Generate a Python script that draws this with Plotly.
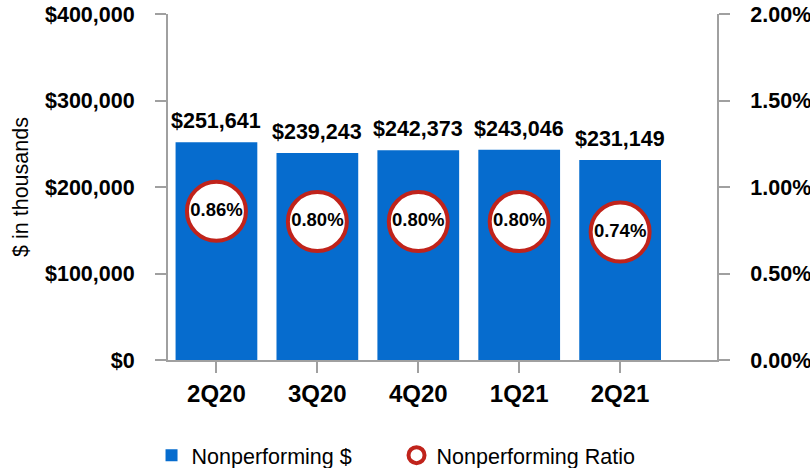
import plotly.graph_objects as go

quarters = ["2Q20", "3Q20", "4Q20", "1Q21", "2Q21"]
nonperforming = [251641, 239243, 242373, 243046, 231149]
ratio = [0.86, 0.80, 0.80, 0.80, 0.74]

left_ticks = [0, 100000, 200000, 300000, 400000]
left_labels = ["$0", "$100,000", "$200,000", "$300,000", "$400,000"]
right_ticks = [0, 0.5, 1.0, 1.5, 2.0]
right_labels = ["0.00%", "0.50%", "1.00%", "1.50%", "2.00%"]

BLUE = "#066CCE"
RED = "#C0231B"
GREY = "#A0A0A0"
FONT = "Liberation Sans, Arial, sans-serif"

fig = go.Figure()
fig.add_trace(go.Bar(
    x=quarters, y=nonperforming, name="Nonperforming $",
    marker=dict(color=BLUE, line=dict(width=0)),
    yaxis="y", hoverinfo="skip",
))
fig.add_trace(go.Scatter(
    x=quarters, y=ratio, name="Nonperforming Ratio", yaxis="y2",
    mode="markers+text",
    text=[f"{r:.2f}%" for r in ratio], textposition="middle center",
    textfont=dict(family=FONT, size=18.5, color="black", weight="bold"),
    marker=dict(size=59, color="white", line=dict(color=RED, width=4)),
    hoverinfo="skip",
))

for q, v in zip(quarters, nonperforming):
    fig.add_annotation(x=q, y=v, xref="x", yref="y", text=f"${v:,}",
                       showarrow=False, yanchor="bottom", yshift=7,
                       font=dict(family=FONT, size=21.5, color="black", weight="bold"))

fig.update_layout(
    width=810, height=468,
    margin=dict(l=168, r=93, t=14, b=108, autoexpand=False),
    paper_bgcolor="white", plot_bgcolor="white",
    bargap=0.19,
    showlegend=True,
    legend=dict(orientation="h", x=-0.03, xanchor="left", y=-0.275, yanchor="middle",
                font=dict(family=FONT, size=21.5, color="black"),
                entrywidth=200, entrywidthmode="pixels"),
    xaxis=dict(range=[-0.48, 4.96], showline=True, linecolor=GREY, linewidth=2,
               ticks="outside", ticklen=11, tickcolor=GREY, tickwidth=2,
               tickfont=dict(family=FONT, size=24, color="black", weight="bold"),
               ticklabelstandoff=0, showgrid=False, zeroline=False, automargin=False),
    yaxis=dict(range=[0, 400000], tickvals=left_ticks, ticktext=left_labels,
               showline=True, linecolor=GREY, linewidth=2,
               ticks="outside", ticklen=11, tickcolor=GREY, tickwidth=2,
               tickfont=dict(family=FONT, size=21.5, color="black", weight="bold"),
               ticklabelstandoff=16, showgrid=False, zeroline=False, automargin=False,
               ticklabeloverflow="allow",
               title=dict(text="$ in thousands", standoff=10,
                          font=dict(family=FONT, size=21.5, color="black"))),
    yaxis2=dict(range=[0, 2.0], tickvals=right_ticks, ticktext=right_labels,
                overlaying="y", side="right",
                showline=True, linecolor=GREY, linewidth=2,
                ticks="outside", ticklen=11, tickcolor=GREY, tickwidth=2,
                tickfont=dict(family=FONT, size=21.5, color="black", weight="bold"),
                ticklabelstandoff=16, showgrid=False, zeroline=False, automargin=False,
                ticklabeloverflow="allow"),
)

fig.write_html("out.html", config={"displayModeBar": False},
               post_script="document.body.style.margin='0';document.body.style.overflow='hidden';")
